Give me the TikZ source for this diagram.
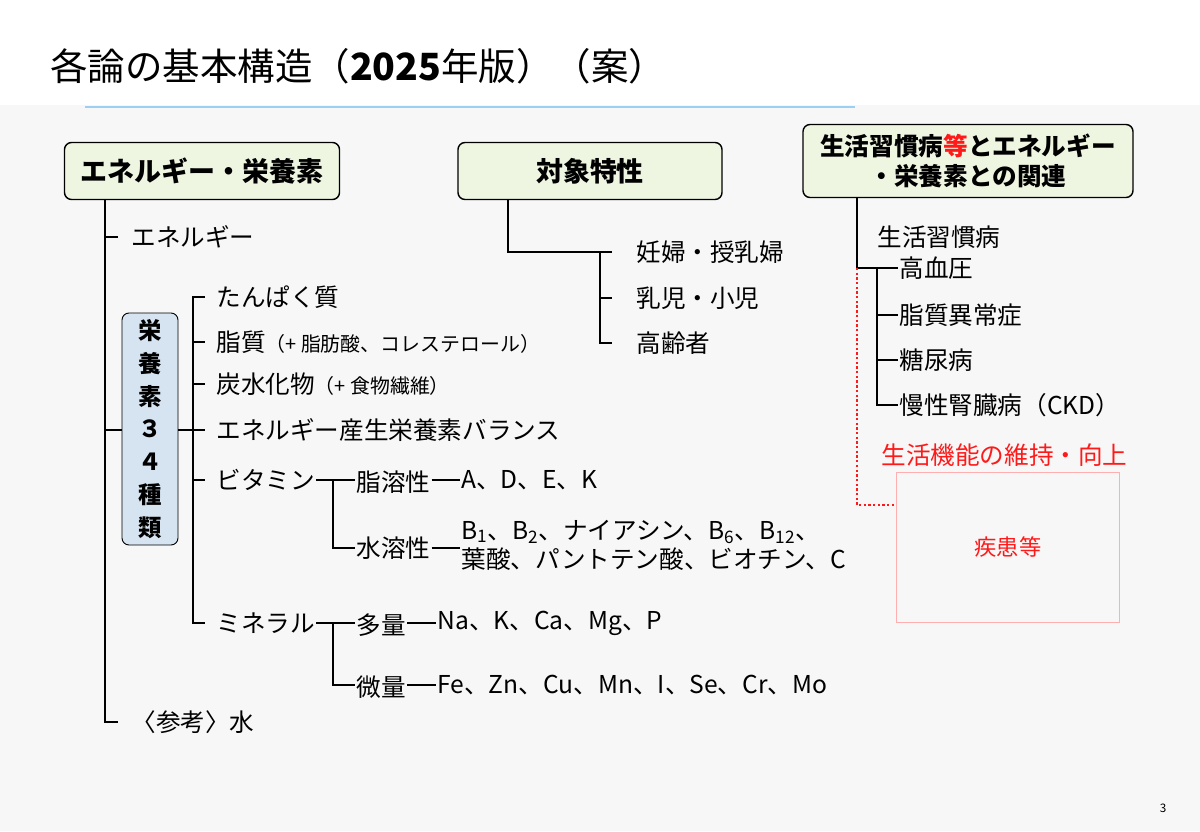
\documentclass[tikz,border=0pt]{standalone}
\usepackage{fontspec}
\setmainfont{Noto Sans CJK JP}
\usetikzlibrary{positioning,calc}
\definecolor{headfill}{HTML}{EEF5E1}
\definecolor{nutfill}{HTML}{D6E3F1}
\definecolor{pagegray}{HTML}{F7F7F7}
\definecolor{rulecolor}{HTML}{9CCFF2}
\definecolor{alertred}{HTML}{FF1A1A}

\tikzset{
  head/.style={draw,very thick,rounded corners=6pt,fill=headfill,font=\fontsize{23}{26}\bfseries\selectfont,align=center},
  item/.style={anchor=west,inner sep=1pt,font=\fontsize{21}{25}\selectfont},
  tree/.style={line width=1.8pt},
  redtext/.style={text=alertred}
}
\newcommand{\smalltxt}[1]{{\fontsize{17}{20}\selectfont #1}}

\begin{document}
\begin{tikzpicture}[x=0.03cm,y=-0.03cm]
  % Background
  \fill[white] (0,0) rectangle (1200,831);
  \fill[pagegray] (0,105) rectangle (1200,831);
  \draw[rulecolor,line width=2pt] (85,107) -- (855,107);
  \node[anchor=west,font=\fontsize{32}{36}\selectfont] (title) at (46,66)
    {各論の基本構造（\textbf{2025}年版）（案）};
  \node[font=\fontsize{10}{12}\selectfont] (page) at (1163,808) {3};

  % Heads
  \node[head,minimum width=275*0.03cm,minimum height=57*0.03cm] (en) at (202,171) {エネルギー・栄養素};
  \node[head,minimum width=264*0.03cm,minimum height=57*0.03cm] (tai) at (590,171) {対象特性};
  \node[head,minimum width=330*0.03cm,minimum height=73*0.03cm,font=\fontsize{21}{25}\bfseries\selectfont] (sei) at (968,161)
    {生活習慣病{\color{alertred}等}とエネルギー\\・栄養素との関連};

  % Energy and nutrients
  \node[item] (energy) at (130,237) {エネルギー};
  \node[item] (water) at (130,722) {〈参考〉水};
  \node[draw,thick,rounded corners=6pt,fill=nutfill,minimum width=56*0.03cm,minimum height=232*0.03cm,
        font=\fontsize{20}{28}\bfseries\selectfont,align=center,inner sep=1pt] (nut) at (150,429)
    {栄\\養\\素\\３\\４\\種\\類};
  \coordinate (trunk) at (105,200);
  \draw[tree] (trunk) -- (105,722) -- (118,722);
  \draw[tree] (105,237) -- (118,237);
  \draw[tree] (105,430) -- (nut.west |- 0,430);
  \draw[tree] (nut.east |- 0,430) -- (193,430);

  \node[item] (prot) at (215,297) {たんぱく質};
  \node[item] (fat) at (215,342) {脂質\smalltxt{（+ 脂肪酸、コレステロール）}};
  \node[item] (carb) at (215,384) {炭水化物\smalltxt{（+ 食物繊維）}};
  \node[item] (bal) at (215,430) {エネルギー産生栄養素バランス};
  \node[item] (vit) at (215,480) {ビタミン};
  \node[item] (min) at (215,623) {ミネラル};
  \draw[tree] (205,297) -- (193,297) -- (193,623) -- (205,623);
  \foreach \y in {342,384,430,480} \draw[tree] (193,\y) -- (205,\y);

  % Vitamins
  \node[item] (fsol) at (355,482) {脂溶性};
  \node[item] (wsol) at (355,548) {水溶性};
  \node[item] (fvit) at (460,480) {A、D、E、K};
  \node[item,align=left] (wvit) at (460,545)
    {B\textsubscript{1}、B\textsubscript{2}、ナイアシン、B\textsubscript{6}、B\textsubscript{12}、\\葉酸、パントテン酸、ビオチン、C};
  \draw[tree] (vit.east |- 0,480) -- (fsol.west |- 0,480);
  \draw[tree] (333,480) -- (333,548) -- (fsol.west |- 0,548);
  \draw[tree] (fsol.east |- 0,480) -- (fvit.west |- 0,480);
  \draw[tree] (wsol.east |- 0,548) -- (wvit.west |- 0,548);

  % Minerals
  \node[item] (macro) at (355,625) {多量};
  \node[item] (trace) at (355,687) {微量};
  \node[item] (mac) at (436,623) {Na、K、Ca、Mg、P};
  \node[item] (tra) at (436,685) {Fe、Zn、Cu、Mn、I、Se、Cr、Mo};
  \draw[tree] (min.east |- 0,623) -- (macro.west |- 0,623);
  \draw[tree] (333,623) -- (333,685) -- (trace.west |- 0,685);
  \draw[tree] (macro.east |- 0,623) -- (mac.west |- 0,623);
  \draw[tree] (trace.east |- 0,685) -- (tra.west |- 0,685);

  % Target groups
  \node[item] (preg) at (635,252) {妊婦・授乳婦};
  \node[item] (child) at (635,298) {乳児・小児};
  \node[item] (elder) at (635,343) {高齢者};
  \draw[tree] (508,200) -- (508,252) -- (612,252);
  \draw[tree] (600,252) -- (600,343) -- (612,343);
  \draw[tree] (600,298) -- (612,298);

  % Lifestyle diseases
  \node[item] (life) at (876,237) {生活習慣病};
  \node[item] (hyp) at (898,268) {高血圧};
  \node[item] (dys) at (898,315) {脂質異常症};
  \node[item] (dia) at (898,360) {糖尿病};
  \node[item] (ckd) at (898,405) {慢性腎臓病（CKD）};
  \draw[tree] (857,198) -- (857,268) -- (hyp.west);
  \draw[tree] (877,268) -- (877,405) -- (ckd.west);
  \draw[tree] (877,315) -- (dys.west);
  \draw[tree] (877,360) -- (dia.west);

  % Disease box
  \node[item,redtext] (func) at (880,455) {生活機能の維持・向上};
  \node[draw=alertred!35,fill=pagegray,minimum width=223*0.03cm,minimum height=150*0.03cm,
        font=\fontsize{19}{22}\selectfont,text=alertred] (dis) at (1008,547) {疾患等};
  \draw[alertred,line width=2pt,dotted] (857,268) -- (857,505) -- (dis.west |- 0,505);
\end{tikzpicture}
\end{document}
